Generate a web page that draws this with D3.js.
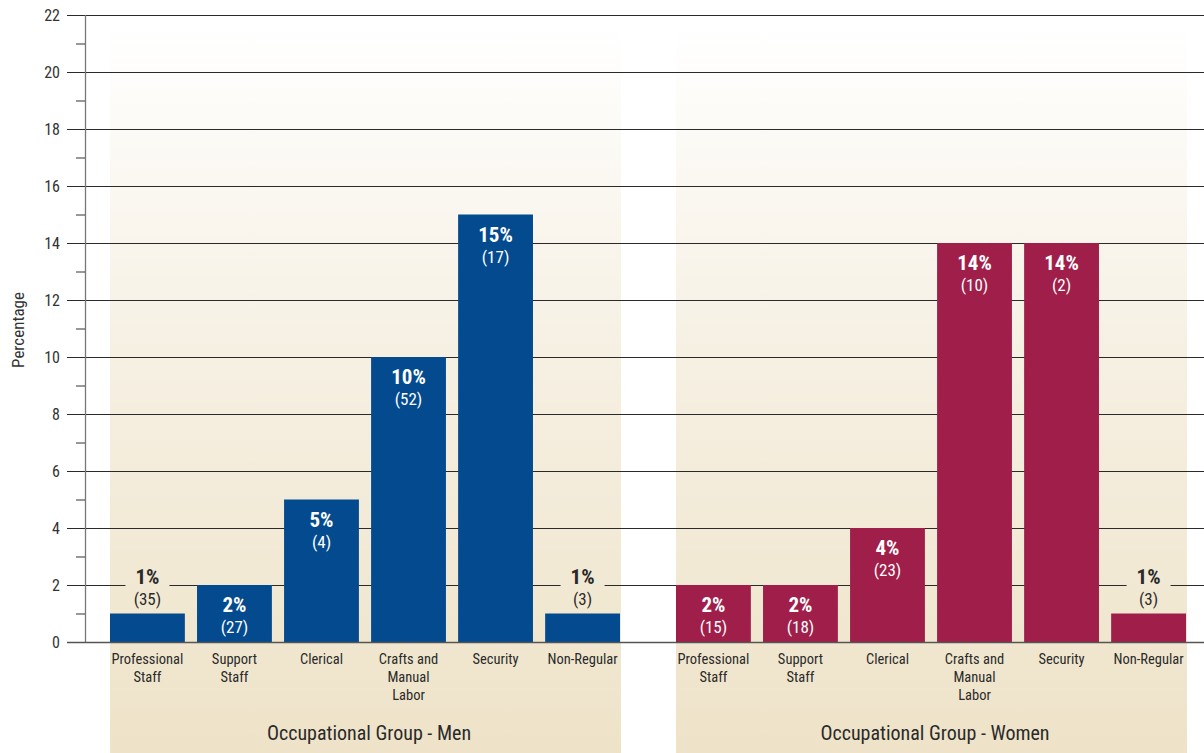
<!DOCTYPE html>
<html>
<head>
<meta charset="utf-8">
<script src="https://cdn.jsdelivr.net/npm/d3@7"></script>
<style>
  html, body { margin: 0; padding: 0; background: #ffffff; }
  svg { display: block; font-family: "Liberation Sans Narrow", "Roboto Condensed", "Roboto", "Liberation Sans", sans-serif; font-stretch: condensed; }
</style>
</head>
<body>
<svg id="chart" width="1204" height="753"></svg>
<script>
// Occupational categories shared by both groups
const categories = [
  ["Professional", "Staff"],
  ["Support", "Staff"],
  ["Clerical"],
  ["Crafts and", "Manual", "Labor"],
  ["Security"],
  ["Non-Regular"]
];
const categoryKeys = categories.map(c => c.join(" "));

// Percentages and counts per group
const menValues = [1, 2, 5, 10, 15, 1];
const menCounts = [35, 27, 4, 52, 17, 3];
const womenValues = [2, 2, 4, 14, 14, 1];
const womenCounts = [15, 18, 23, 10, 2, 3];

const yTicks = [0, 2, 4, 6, 8, 10, 12, 14, 16, 18, 20, 22];
const yMinorTicks = [1, 3, 5, 7, 9, 11, 13, 15, 17, 19, 21];

const groups = [
  { title: "Occupational Group - Men", values: menValues, counts: menCounts, color: "#034a8f", range: [110, 620] },
  { title: "Occupational Group - Women", values: womenValues, counts: womenCounts, color: "#a01e4a", range: [676, 1186] }
];

const svg = d3.select("#chart");
const W = 1204, H = 753;
const axisX = 85;
const y = d3.scaleLinear().domain([0, 22]).range([642, 15]);

// Panel gradient in user space, so label backings pick up the same tone
const defs = svg.append("defs");
const grad = defs.append("linearGradient")
  .attr("id", "panelGrad")
  .attr("gradientUnits", "userSpaceOnUse")
  .attr("x1", 0).attr("y1", 27).attr("x2", 0).attr("y2", 753);
grad.append("stop").attr("offset", "0").attr("stop-color", "#ffffff");
grad.append("stop").attr("offset", "0.45").attr("stop-color", "#f6f0e3");
grad.append("stop").attr("offset", "1").attr("stop-color", "#eee3c8");

// Background panels
groups.forEach(g => {
  svg.append("rect")
    .attr("x", g.range[0]).attr("y", 27)
    .attr("width", g.range[1] - g.range[0] + 1).attr("height", H - 27)
    .attr("fill", "url(#panelGrad)");
});

// Horizontal gridlines
svg.append("g").selectAll("line")
  .data(yTicks.filter(d => d > 0))
  .join("line")
  .attr("x1", 67).attr("x2", W)
  .attr("y1", d => y(d) + 0.5).attr("y2", d => y(d) + 0.5)
  .attr("stroke", "#2a2a2a").attr("stroke-width", 1);

// Y axis line, minor ticks, tick labels
svg.append("line")
  .attr("x1", axisX + 0.5).attr("x2", axisX + 0.5)
  .attr("y1", y(22)).attr("y2", y(0))
  .attr("stroke", "#777").attr("stroke-width", 1.3);

svg.append("g").selectAll("line")
  .data(yMinorTicks)
  .join("line")
  .attr("x1", 76).attr("x2", axisX)
  .attr("y1", d => y(d) + 0.5).attr("y2", d => y(d) + 0.5)
  .attr("stroke", "#333").attr("stroke-width", 1);

svg.append("g").selectAll("text")
  .data(yTicks)
  .join("text")
  .attr("x", 60).attr("y", d => y(d))
  .attr("dy", "0.36em")
  .attr("text-anchor", "end")
  .attr("font-size", 16)
  .attr("fill", "#333")
  .text(d => d);

svg.append("text")
  .attr("transform", `translate(24,330) rotate(-90)`)
  .attr("text-anchor", "middle")
  .attr("font-size", 17)
  .attr("fill", "#333")
  .text("Percentage");

// Bars and labels per group
groups.forEach(g => {
  const x = d3.scaleBand().domain(categoryKeys).range(g.range).paddingInner(0.14).paddingOuter(0);
  const data = g.values.map((v, i) => ({ key: categoryKeys[i], lines: categories[i], v, n: g.counts[i] }));
  const layer = svg.append("g");

  layer.selectAll("rect.bar")
    .data(data)
    .join("rect")
    .attr("class", "bar")
    .attr("x", d => x(d.key))
    .attr("y", d => y(d.v))
    .attr("width", x.bandwidth())
    .attr("height", d => y(0) - y(d.v))
    .attr("fill", g.color);

  data.forEach(d => {
    const cx = x(d.key) + x.bandwidth() / 2;
    const top = y(d.v);
    const inside = d.v >= 2;
    const pctY = inside ? top + 27 : top - 30;
    const cntY = inside ? top + 48 : top - 9;
    const fill = inside ? "#ffffff" : "#2a2a2a";
    if (!inside) {
      layer.append("rect")
        .attr("x", cx - 22).attr("y", pctY - 20)
        .attr("width", 44).attr("height", 40)
        .attr("fill", "url(#panelGrad)");
    }
    layer.append("text")
      .attr("x", cx).attr("y", pctY)
      .attr("text-anchor", "middle")
      .attr("font-size", 21).attr("font-weight", "bold")
      .attr("fill", fill)
      .text(d.v + "%");
    layer.append("text")
      .attr("x", cx).attr("y", cntY)
      .attr("text-anchor", "middle")
      .attr("font-size", 17)
      .attr("fill", fill)
      .text("(" + d.n + ")");
    const lbl = layer.append("text")
      .attr("text-anchor", "middle")
      .attr("font-size", 14.5)
      .attr("fill", "#2a2a2a");
    d.lines.forEach((ln, j) => {
      lbl.append("tspan").attr("x", cx).attr("y", 664 + j * 18).text(ln);
    });
  });

  svg.append("text")
    .attr("x", (g.range[0] + g.range[1]) / 2 + 4)
    .attr("y", 740)
    .attr("text-anchor", "middle")
    .attr("font-size", 20)
    .attr("fill", "#2a2a2a")
    .text(g.title);
});

// Baseline
svg.append("line")
  .attr("x1", 67).attr("x2", W)
  .attr("y1", y(0) + 0.5).attr("y2", y(0) + 0.5)
  .attr("stroke", "#555").attr("stroke-width", 1.5);
</script>
</body>
</html>
